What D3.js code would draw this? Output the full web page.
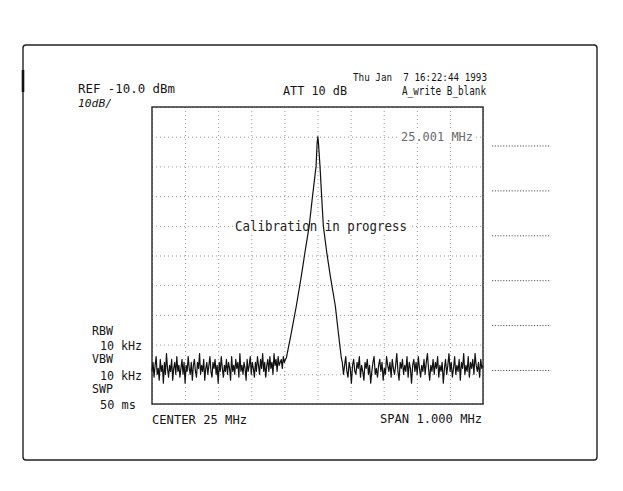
<!DOCTYPE html>
<html><head><meta charset="utf-8">
<script src="https://cdn.jsdelivr.net/npm/d3@7"></script>
<style>
html,body{margin:0;padding:0;background:#fff;}
svg text{font-family:"DejaVu Sans Mono",monospace;fill:#151515;white-space:pre;}
</style></head>
<body><svg id="c" width="623" height="491"></svg>
<script>
// ---- data ----
const freqDomain = [24.5, 25.5];           // MHz (CENTER 25 MHz, SPAN 1.000 MHz)
const levelDomain = [-110, -10];           // dBm (REF -10.0 dBm, 10 dB/div)
const freqTicks = [24.5,24.6,24.7,24.8,24.9,25.0,25.1,25.2,25.3,25.4,25.5];
const levelTicks = [-10,-20,-30,-40,-50,-60,-70,-80,-90,-100,-110];
const markerFreq = 25.001;
const markerLevel = -20;
const noiseLeftRange = [24.5, 24.903];
const noiseRightRange = [25.075, 25.5];
const noiseLeft = [
-99,-96,-101,-97,-94,-100,-98,-102,-95,-99,
-97,-103,-96,-100,-93,-98,-101,-97,-99,-95,
-102,-98,-96,-100,-94,-99,-97,-101,-98,-95,
-100,-96,-103,-97,-99,-94,-98,-100,-96,-102,
-97,-95,-99,-101,-96,-98,-93,-100,-97,-99,
-95,-102,-98,-96,-100,-97,-94,-99,-101,-96,
-98,-95,-100,-97,-103,-96,-99,-94,-98,-101,
-97,-99,-95,-100,-96,-98,-102,-94,-99,-97,
-100,-95,-98,-96,-101,-93,-99,-97,-100,-96,
-98,-102,-95,-99,-97,-94,-100,-96,-98,-101,
-96,-99,-94,-97,-100,-95,-98,-93,-99,-96,
-101,-97,-95,-99,-94,-98,-96,-100,-93,-97,
-95,-99,-94,-97,-96,-95,-98,-94,-96,-95];
const peakFreq  = [24.906,24.921,24.936,24.951,24.962,24.975,24.985,24.9956,24.999,25.001,25.0028,25.0076,25.0125,25.0176,25.028,25.0388,25.0539,25.063,25.072];
const peakLevel = [-94.5,-86,-77,-67,-59,-50,-40,-30,-22,-20,-22,-30,-40,-50,-59,-67,-77,-86,-94.5];
const noiseRight = [
-96,-100,-97,-94,-99,-101,-96,-98,-103,-97,
-95,-99,-100,-96,-98,-94,-101,-97,-99,-102,
-96,-98,-95,-100,-97,-103,-99,-96,-94,-100,
-98,-101,-97,-95,-99,-96,-102,-98,-100,-94,
-97,-99,-96,-101,-95,-98,-100,-97,-93,-99,
-102,-96,-98,-95,-100,-97,-99,-94,-101,-96,
-98,-103,-97,-95,-99,-96,-100,-94,-98,-101,
-97,-99,-95,-100,-96,-93,-98,-102,-97,-99,
-95,-100,-96,-98,-94,-101,-97,-99,-96,-103,
-98,-95,-100,-97,-93,-99,-96,-101,-98,-94,
-100,-97,-99,-95,-102,-96,-98,-93,-100,-97,
-99,-94,-101,-96,-98,-95,-100,-93,-97,-99,
-96,-101,-95,-98,-97];
const headerTexts = {
  ref: "REF -10.0 dBm", scale: "10dB/", att: "ATT 10 dB",
  date: "Thu Jan  7 16:22:44 1993", trace: "A_write B_blank",
  marker: "25.001 MHz", status: "Calibration in progress",
  center: "CENTER 25 MHz", span: "SPAN 1.000 MHz"
};
const sideLabels = ["RBW","10 kHz","VBW","10 kHz","SWP","50 ms"];
const softkeyCount = 6;

// ---- drawing ----
const svg = d3.select("#c");
const L = 152, R = 483, T = 107, B = 404;
const x = d3.scaleLinear().domain(freqDomain).range([L, R]);
const y = d3.scaleLinear().domain(levelDomain).range([B, T]);

// outer frame
svg.append("rect").attr("x",23).attr("y",45).attr("width",574).attr("height",415)
  .attr("rx",3).attr("fill","none").attr("stroke","#222").attr("stroke-width",1.4);
svg.append("line").attr("x1",23).attr("x2",23).attr("y1",70).attr("y2",92)
  .attr("stroke","#111").attr("stroke-width",2.6);

// grid
const gx = svg.append("g").attr("transform",`translate(0,${B})`)
  .call(d3.axisBottom(x).tickValues(freqTicks).tickSize(-(B-T)).tickFormat(""));
const gy = svg.append("g").attr("transform",`translate(${L},0)`)
  .call(d3.axisLeft(y).tickValues(levelTicks).tickSize(-(R-L)).tickFormat(""));
[gx,gy].forEach(g=>{
  g.select(".domain").remove();
  g.selectAll(".tick line").attr("stroke","#999").attr("stroke-width",1)
    .attr("stroke-dasharray","1,3");
});

// plot border
svg.append("rect").attr("x",L).attr("y",T).attr("width",R-L).attr("height",B-T)
  .attr("fill","none").attr("stroke","#333").attr("stroke-width",1.5);

// softkey lines
const sk = d3.range(softkeyCount);
svg.selectAll(".sk").data(sk).enter().append("line")
  .attr("x1",492).attr("x2",551)
  .attr("y1",d=>146+d*44.9).attr("y2",d=>146+d*44.9)
  .attr("stroke","#555").attr("stroke-width",1).attr("stroke-dasharray","1.2,1.6");

function txt(s,xx,yy,len,size,col){
  const t = svg.append("text").attr("x",xx).attr("y",yy).attr("font-size",size)
    .attr("textLength",len).attr("lengthAdjust","spacingAndGlyphs").text(s);
  if(col) t.style("fill",col);
  return t;
}
txt(headerTexts.ref,78,93,97,12);
txt(headerTexts.scale,78,107,34,11).attr("font-style","italic");
txt(headerTexts.att,283,95,64,12);
txt(headerTexts.date,353,81,134,11);
txt(headerTexts.trace,402,95,84,11.5);

// status text with background
svg.append("rect").attr("x",233).attr("y",218).attr("width",177).attr("height",17).attr("fill","#fff");
txt(headerTexts.status,235,231,172,14,"#222");
// marker readout
svg.append("rect").attr("x",399).attr("y",131).attr("width",76).attr("height",12).attr("fill","#fff");
txt(headerTexts.marker,401,141,72,12,"#6a6a6a");

txt(headerTexts.center,152,424,95,13);
txt(headerTexts.span,380,423,102,13);

const sideY = [335,350,363,380,393,409];
const sideX = [92,100,92,100,92,100];
const sideW = [21,42,21,42,21,36];
sideLabels.forEach((s,i)=>txt(s,sideX[i],sideY[i],sideW[i],12));

// trace
const lf = d3.scaleLinear().domain([0,noiseLeft.length-1]).range(noiseLeftRange);
const rf = d3.scaleLinear().domain([0,noiseRight.length-1]).range(noiseRightRange);
const pts = [];
noiseLeft.forEach((v,i)=>pts.push([lf(i),v]));
peakFreq.forEach((f,i)=>pts.push([f,peakLevel[i]]));
noiseRight.forEach((v,i)=>pts.push([rf(i),v]));
const line = d3.line().x(d=>x(d[0])).y(d=>y(d[1]));
svg.append("path").attr("d",line(pts)).attr("fill","none")
  .attr("stroke","#111").attr("stroke-width",1.2).attr("stroke-linejoin","round");
</script></body></html>
